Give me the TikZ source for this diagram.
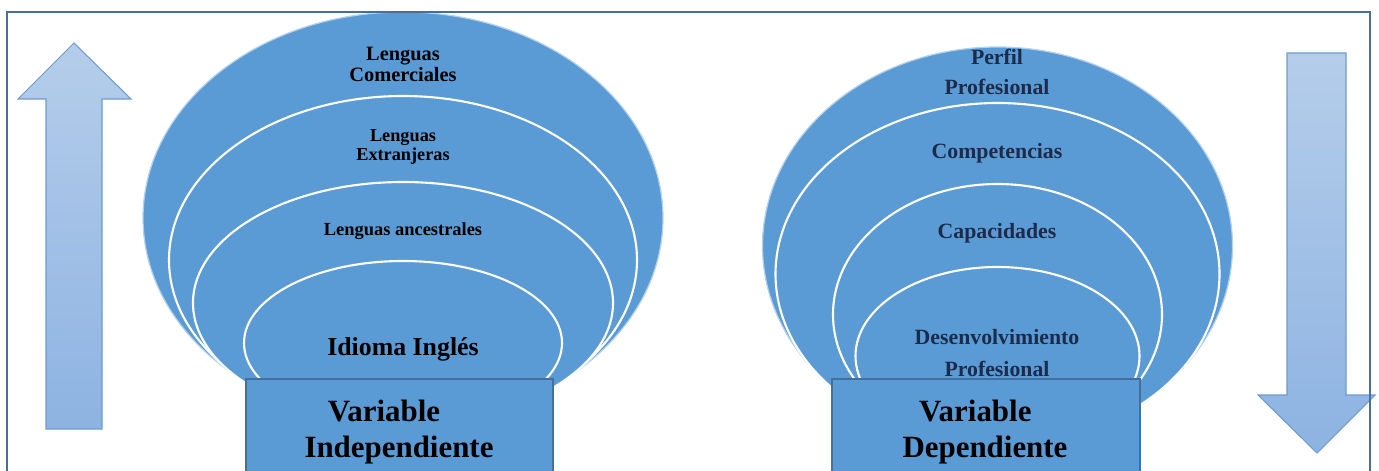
\documentclass[tikz,border=0pt]{standalone}
\usepackage{fontspec}
\setmainfont{Liberation Serif}
\definecolor{ringblue}{HTML}{5B9BD5}
\definecolor{boxedge}{HTML}{41719C}
\definecolor{framecol}{HTML}{44709E}
\definecolor{arrowtop}{HTML}{B5CDEA}
\definecolor{arrowbot}{HTML}{8DB3E2}
\definecolor{arrowedge}{HTML}{6C9BD2}
\definecolor{navytext}{HTML}{1C2B4A}
\tikzset{
  outerring/.style={fill=ringblue, draw=white!55!ringblue, line width=0.7pt},
  ring/.style={fill=ringblue, draw=white, line width=1.2pt},
  varbox/.style={fill=ringblue, draw=boxedge, line width=1.1pt},
  bigarrow/.style={draw=arrowedge, line width=0.6pt, top color=arrowtop, bottom color=arrowbot},
  lefttext/.style={font=\bfseries, text=black, align=center, inner sep=0pt},
  righttext/.style={font=\bfseries, text=navytext, align=center, inner sep=0pt},
}
\begin{document}
\begin{tikzpicture}[x=0.02cm, y=0.02cm]
            \useasboundingbox (0, 0) rectangle (1379, 470);
            \clip (0, 0) rectangle (1379, 470);
            % centres of the two nested targets
            \coordinate (L) at (403, 0);
            \coordinate (R) at (997.5, 0);
            % arrows
            \draw[bigarrow] (46, 41) -- (102, 41) -- (102, 371) -- (131, 371) -- (74, 427)
                -- (18, 371) -- (46, 371) -- cycle;
            \draw[bigarrow] (1287, 417) -- (1346, 417) -- (1346, 75) -- (1375, 75) -- (1317, 17)
                -- (1258, 75) -- (1287, 75) -- cycle;
            % left target
            \draw[outerring] ([yshift=252*0.02cm]L) ellipse [x radius=260, y radius=206];
            \draw[ring] ([yshift=210*0.02cm]L) ellipse [x radius=234, y radius=164];
            \draw[ring] ([yshift=167*0.02cm]L) ellipse [x radius=210, y radius=121];
            \draw[ring] ([yshift=127*0.02cm]L) ellipse [x radius=159, y radius=82];
            % right target
            \draw[outerring] ([yshift=224*0.02cm]R) ellipse [x radius=235, y radius=199];
            \draw[ring] ([yshift=196*0.02cm]R) ellipse [x radius=222, y radius=171];
            \draw[ring] ([yshift=155.5*0.02cm]R) ellipse [x radius=164.5, y radius=130.5];
            \draw[ring] ([yshift=114*0.02cm]R) ellipse [x radius=142, y radius=89];
            % boxes
            \draw[varbox] (246, -20) rectangle (553, 91);
            \draw[varbox] (832, -20) rectangle (1140, 91);
            % left labels
            \node[lefttext, font=\fontsize{11.6}{12}\selectfont\bfseries] (comerciales) at (403, 406) {Lenguas\\Comerciales};
            \node[lefttext, font=\fontsize{10.4}{11.3}\selectfont\bfseries] (extranjeras) at (403, 323) {Lenguas\\Extranjeras};
            \node[lefttext, font=\fontsize{10.5}{12}\selectfont\bfseries] (ancestrales) at (403, 239) {Lenguas ancestrales};
            \node[lefttext, font=\fontsize{14.7}{16}\selectfont\bfseries] (ingles) at (403, 121) {Idioma Inglés};
            \node[lefttext, font=\fontsize{17.6}{20.4}\selectfont\bfseries] (indep) at (399, 38) {Variable\hspace*{17pt}\\Independiente};
            % right labels
            \node[righttext, font=\fontsize{12.4}{17}\selectfont\bfseries] (perfil) at (997, 398) {Perfil\\Profesional};
            \node[righttext, font=\fontsize{12.4}{14}\selectfont\bfseries] (competencias) at (997, 317) {Competencias};
            \node[righttext, font=\fontsize{12.4}{14}\selectfont\bfseries] (capacidades) at (997, 237) {Capacidades};
            \node[righttext, font=\fontsize{12.4}{18}\selectfont\bfseries] (desenv) at (997, 117) {Desenvolvimiento\\Profesional};
            \node[lefttext, font=\fontsize{17.6}{20.4}\selectfont\bfseries] (dep) at (985, 38) {Variable\hspace*{11pt}\\Dependiente};
            % frame
            \draw[framecol, line width=1.2pt] (7, -20) -- (7, 458) -- (1370, 458) -- (1370, -20);
\end{tikzpicture}
\end{document}
